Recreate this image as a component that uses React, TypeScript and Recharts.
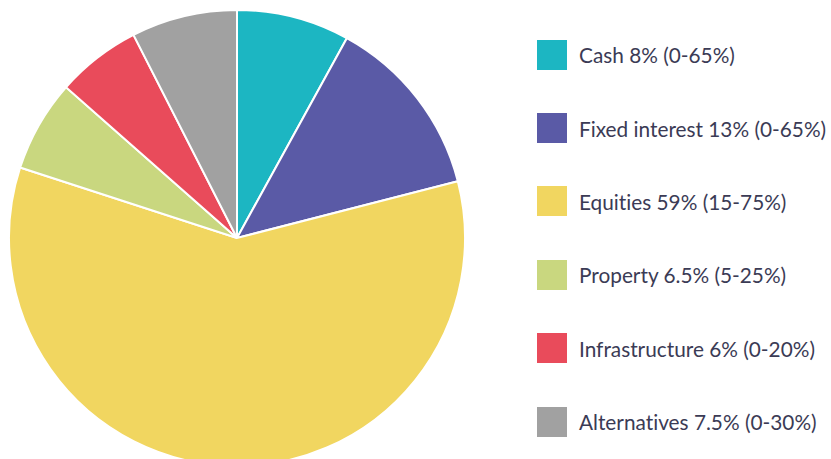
import React from "react";
import { PieChart, Pie, Cell, Legend } from "recharts";

const categories = ["Cash", "Fixed interest", "Equities", "Property", "Infrastructure", "Alternatives"];
const values = [8, 13, 59, 6.5, 6, 7.5];
const ranges = ["0-65%", "0-65%", "15-75%", "5-25%", "0-20%", "0-30%"];
const colors = ["#1cb6c2", "#5a5aa6", "#f1d660", "#c9d77f", "#e94b5b", "#a1a1a1"];

const data = categories.map((name, i) => ({ name, value: values[i], range: ranges[i] }));

const renderLegend = () => (
  <div style={{ fontFamily: "Lato, 'Open Sans', sans-serif", fontVariantLigatures: "none" }}>
    {data.map((d, i) => (
      <div key={d.name} style={{ display: "flex", alignItems: "center", height: 73.4 }}>
        <div style={{ width: 30, height: 30, background: colors[i], flexShrink: 0 }} />
        <span style={{ marginLeft: 12, fontSize: 20.8, color: "#3b3b55", whiteSpace: "nowrap" }}>
          {`${d.name} ${d.value}% (${d.range})`}
        </span>
      </div>
    ))}
  </div>
);

export default function App() {
  return (
    <div style={{ position: "absolute", top: 0, left: 0, width: 831, height: 459, overflow: "hidden" }}>
      <PieChart width={831} height={459} margin={{ top: 0, right: 0, bottom: 0, left: 0 }}>
        <Pie
          data={data}
          dataKey="value"
          nameKey="name"
          cx={237}
          cy={238}
          outerRadius={228}
          startAngle={90}
          endAngle={-270}
          stroke="#ffffff"
          strokeWidth={2}
          isAnimationActive={false}
        >
          {data.map((d, i) => (
            <Cell key={d.name} fill={colors[i]} />
          ))}
        </Pie>
        <Legend
          content={renderLegend}
          layout="vertical"
          verticalAlign="top"
          align="right"
          wrapperStyle={{ left: 537, top: 18, width: 300 }}
        />
      </PieChart>
    </div>
  );
}
